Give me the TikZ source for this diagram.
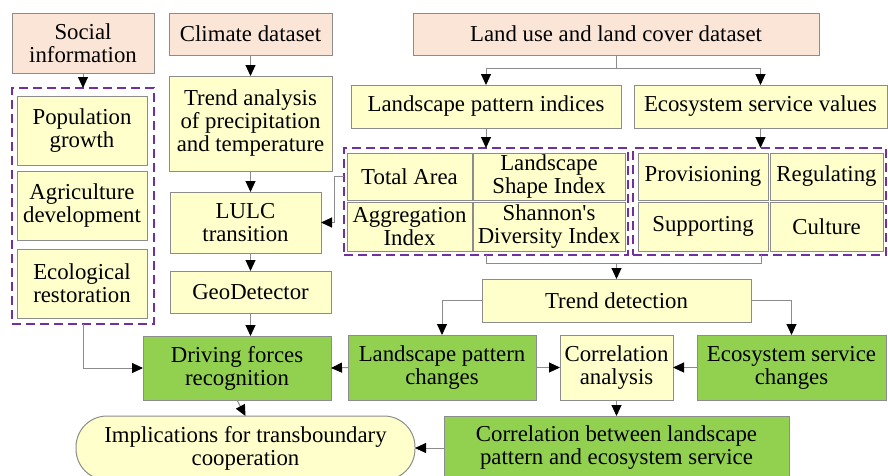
\documentclass[tikz,border=0pt]{standalone}
\usepackage{fontspec}
\setmainfont{Liberation Serif}
\usetikzlibrary{arrows.meta}
\definecolor{peach}{HTML}{FBE5D6}
\definecolor{lyel}{HTML}{FFFFCC}
\definecolor{lgreen}{HTML}{92D050}
\definecolor{bord}{HTML}{8C8C8C}
\definecolor{purp}{HTML}{7030A0}
\begin{document}
\begin{tikzpicture}[x=1pt,y=-1pt,
  every node/.style={font=\fontsize{22.8}{23}\selectfont, align=center, inner sep=0pt, outer sep=0pt},
  sz/.style 2 args={minimum width=#1pt, minimum height=#2pt},
  ybox/.style={draw=bord, line width=1pt, fill=lyel},
  pbox/.style={draw=bord, line width=1pt, fill=peach},
  gbox/.style={draw=bord, line width=1pt, fill=lgreen},
  dbox/.style={draw=purp, line width=2.8pt, dash pattern=on 9pt off 5pt},
  conn/.style={draw=bord, line width=1pt},
  arr/.style={conn, -{Triangle[width=10pt,length=11pt,fill=black,color=black]}}
]
\useasboundingbox (0,0) rectangle (888,475);

% dataset boxes
\node[pbox, sz={142}{60}] (soc) at (83,43) {Social\\information};
\node[pbox, sz={163}{42}] (clim) at (250.5,34) {Climate dataset};
\node[pbox, sz={406}{42}] (lucd) at (616,34) {Land use and land cover dataset};

% dashed groups
\node[dbox, sz={142}{236}] (d1) at (83,206) {};
\node[dbox, sz={284}{107}] (d2) at (486,201.5) {};
\node[dbox, sz={253}{107}] (d3) at (759.5,201.5) {};

% social factors
\node[ybox, sz={130}{69}] (pop) at (82,130.5) {Population\\growth};
\node[ybox, sz={130}{69}] (agr) at (82,205.5) {Agriculture\\development};
\node[ybox, sz={130}{69}] (eco) at (82,283.5) {Ecological\\restoration};

% climate column
\node[ybox, sz={163}{95}] (trend) at (250.5,123.5) {Trend analysis\\of precipitation\\and temperature};
\node[ybox, sz={151}{61}] (lulc) at (245.5,222.5) {LULC\\transition};
\node[ybox, sz={161}{42}] (geo) at (250.5,292) {GeoDetector};

% landscape / ecosystem
\node[ybox, sz={270}{43}] (lpi) at (486,106.5) {Landscape pattern indices};
\node[ybox, sz={253}{43}] (esv) at (760.5,106.5) {Ecosystem service values};

\node[ybox, sz={125}{47}] (ta) at (409.5,176.5) {Total Area};
\node[ybox, sz={152}{47}] (lsi) at (549,176.5) {Landscape\\Shape Index};
\node[ybox, sz={125}{49}] (ai) at (409.5,226.5) {Aggregation\\Index};
\node[ybox, sz={152}{49}] (sdi) at (549,226.5) {Shannon\textquotesingle s\\Diversity Index};

\node[ybox, sz={130}{47}] (prov) at (703,176.5) {Provisioning};
\node[ybox, sz={113}{47}] (reg) at (826.5,176.5) {Regulating};
\node[ybox, sz={130}{49}] (sup) at (703,226.5) {Supporting};
\node[ybox, sz={113}{49}] (cul) at (826.5,226.5) {Culture};

% lower part
\node[ybox, sz={269}{43}] (td) at (616.5,300.5) {Trend detection};
\node[gbox, sz={188}{64}] (drive) at (237,368) {Driving forces\\recognition};
\node[gbox, sz={188}{65}] (lpc) at (442,367.5) {Landscape pattern\\changes};
\node[ybox, sz={113}{65}] (corr) at (616.5,367.5) {Correlation\\analysis};
\node[gbox, sz={189}{65}] (esc) at (791.5,367.5) {Ecosystem service\\changes};
\node[gbox, sz={345}{64}] (corrb) at (616.5,448) {Correlation between landscape\\pattern and ecosystem service};
\node[ybox, sz={339}{64}, rounded corners=31pt] (impl) at (245.5,448) {Implications for transboundary\\cooperation};

% connectors
\draw[arr] (soc.south) -- (d1.north);
\draw[arr] (clim.south) -- (trend.north);
\draw[arr] (trend.south) -- (trend.south |- lulc.north);
\draw[arr] (lulc.south -| trend.south) -- (trend.south |- geo.north);
\draw[arr] (geo.south) -- (geo.south |- drive.north);
\draw[arr] (d1.south) |- (drive.west);
\draw[arr] (drive.south) -- (impl.north);
\draw[arr] (lpc.west) -- (drive.east);
\draw[arr] (lpc.east) -- (corr.west);
\draw[arr] (esc.west) -- (corr.east);
\draw[arr] (corr.south) -- (corrb.north);
\draw[arr] (corrb.west) -- (impl.east);
\draw[arr] (td.west) -| (lpc.north);
\draw[arr] (td.east) -| (esc.north);

\coordinate (j1) at (616,68);
\draw[conn] (lucd.south) -- (j1);
\draw[arr] (j1) -| (lpi.north);
\draw[arr] (j1) -| (esv.north);
\draw[arr] (lpi.south) -- (d2.north);
\draw[arr] (esv.south) -- (esv.south |- d3.north);

\coordinate (j2) at (486,263);
\coordinate (j3) at (761,263);
\draw[conn] (d2.south) -- (j2) -- (j3) -- (j3 |- d3.south);
\draw[arr] (td.north |- j2) -- (td.north);

\coordinate (k1) at (d2.west |- ta.center);
\coordinate (k2) at (334,176.5);
\draw[arr] (k1) -- (k2) |- (lulc.east);
\end{tikzpicture}
\end{document}
